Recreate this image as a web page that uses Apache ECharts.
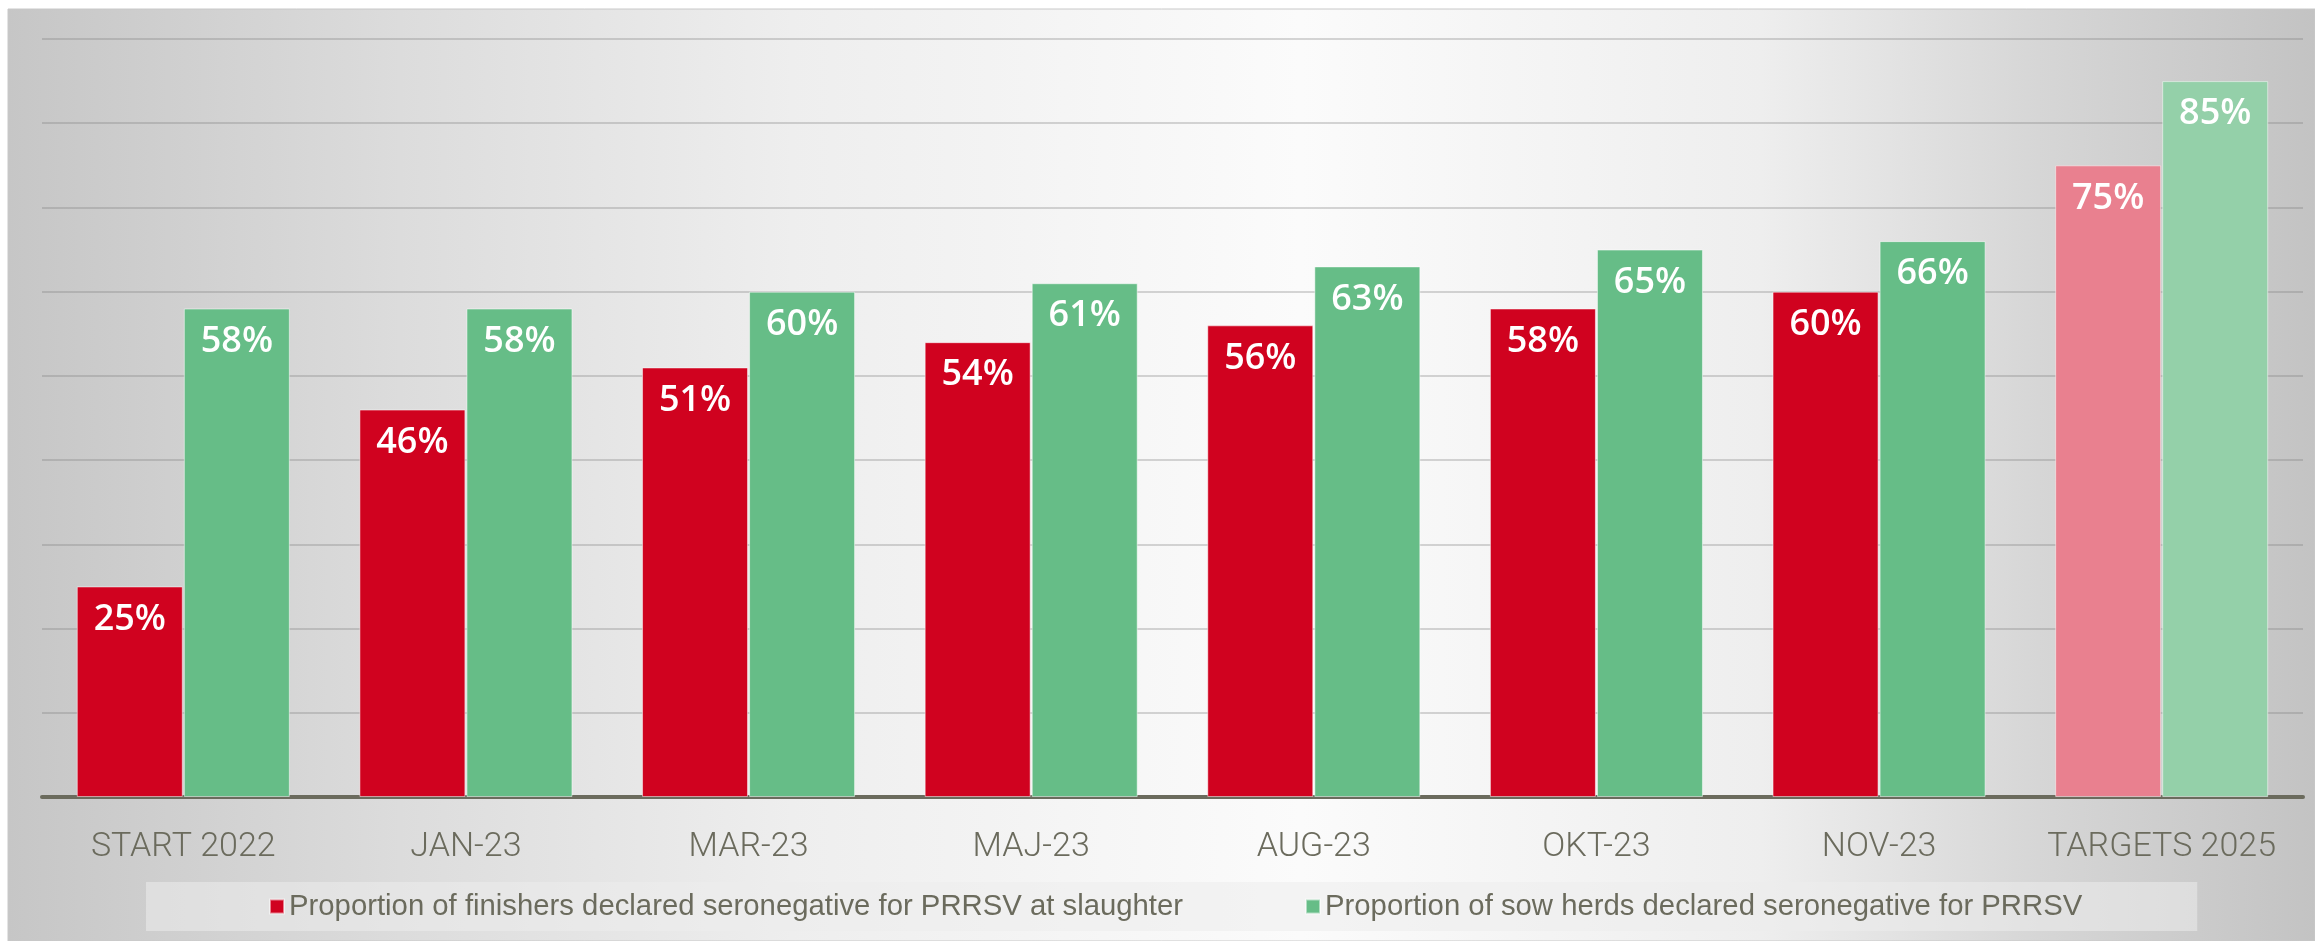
<!DOCTYPE html>
<html>
<head>
<meta charset="utf-8">
<title>PRRSV seronegative</title>
<script src="https://cdn.jsdelivr.net/npm/echarts@6.0.0/dist/echarts.min.js"></script>
<style>
  html, body { margin: 0; padding: 0; background: #fff; }
  #chart { width: 2315px; height: 941px; }
</style>
</head>
<body>
<div id="chart"></div>
<script>
// data
var categories = ['START 2022', 'JAN-23', 'MAR-23', 'MAJ-23', 'AUG-23', 'OKT-23', 'NOV-23', 'TARGETS 2025']
var finishers = [25, 46, 51, 54, 56, 58, 60, 75]
var sowHerds = [58, 58, 60, 61, 63, 65, 66, 85]
var seriesNames = [
  'Proportion of finishers declared seronegative for PRRSV at slaughter',
  'Proportion of sow herds declared seronegative for PRRSV'
]

var RED = '#d0021f'
var GREEN = '#66bd87'
var RED_TARGET = '#e9808f'
var GREEN_TARGET = '#94d0a9'
var TEXT = '#6b6b5d'

// last category is the target, drawn in a lighter tint
function withTarget(values, targetColor) {
  return values.map(function(v, i) {
    if (i === values.length - 1) {
      return { value: v, itemStyle: { color: targetColor } }
    }
    return v
  })
}

var chart = echarts.init(document.getElementById('chart'))

var labelStyle = {
  show: true,
  position: 'insideTop',
  distance: 15,
  formatter: '{c}%',
  color: '#fff',
  fontFamily: 'Open Sans',
  fontWeight: 600,
  fontSize: 36
}

chart.setOption({
  backgroundColor: '#fff',
  animation: false,
  graphic: [{
    type: 'rect',
    z: -10,
    silent: true,
    shape: { x: 8, y: 9, width: 2307, height: 932 },
    style: {
      fill: new echarts.graphic.LinearGradient(0, 0, 1, 0, [
        { offset: 0, color: '#c6c6c6' },
        { offset: 0.17, color: '#dcdcdc' },
        { offset: 0.34, color: '#eeeeee' },
        { offset: 0.56, color: '#fbfbfb' },
        { offset: 0.76, color: '#eeeeee' },
        { offset: 0.88, color: '#d6d6d6' },
        { offset: 1, color: '#c3c3c3' }
      ]),
      stroke: '#c8c8c8',
      lineWidth: 1
    }
  }],
  grid: {
    left: 42,
    right: 12,
    top: 39,
    bottom: 144
  },
  legend: {
    data: seriesNames,
    left: 146,
    top: 882,
    padding: [10, 115, 10, 123],
    backgroundColor: 'rgba(236,236,236,0.55)',
    itemGap: 122,
    itemWidth: 14,
    itemHeight: 14,
    icon: 'rect',
    textStyle: {
      fontFamily: 'Liberation Sans',
      fontSize: 29.3,
      color: TEXT
    }
  },
  xAxis: {
    type: 'category',
    data: categories,
    axisTick: { show: false },
    axisLine: {
      lineStyle: { color: '#6b6b5d', width: 4 }
    },
    axisLabel: {
      interval: 0,
      margin: 33,
      fontFamily: 'Roboto',
      fontWeight: 300,
      fontSize: 34,
      color: TEXT
    }
  },
  yAxis: {
    type: 'value',
    min: 0,
    max: 90,
    interval: 10,
    axisLabel: { show: false },
    axisLine: { show: false },
    axisTick: { show: false },
    splitLine: {
      lineStyle: { color: 'rgba(120,120,120,0.4)', width: 1.5 }
    }
  },
  series: [{
    name: seriesNames[0],
    type: 'bar',
    barWidth: 106,
    barGap: '1%',
    itemStyle: {
      color: RED,
      borderColor: 'rgba(255,255,255,0.5)',
      borderWidth: 1
    },
    label: labelStyle,
    data: withTarget(finishers, RED_TARGET)
  },
  {
    name: seriesNames[1],
    type: 'bar',
    barWidth: 106,
    barGap: '1%',
    itemStyle: {
      color: GREEN,
      borderColor: 'rgba(255,255,255,0.5)',
      borderWidth: 1
    },
    label: labelStyle,
    data: withTarget(sowHerds, GREEN_TARGET)
  }]
})
</script>
</body>
</html>
